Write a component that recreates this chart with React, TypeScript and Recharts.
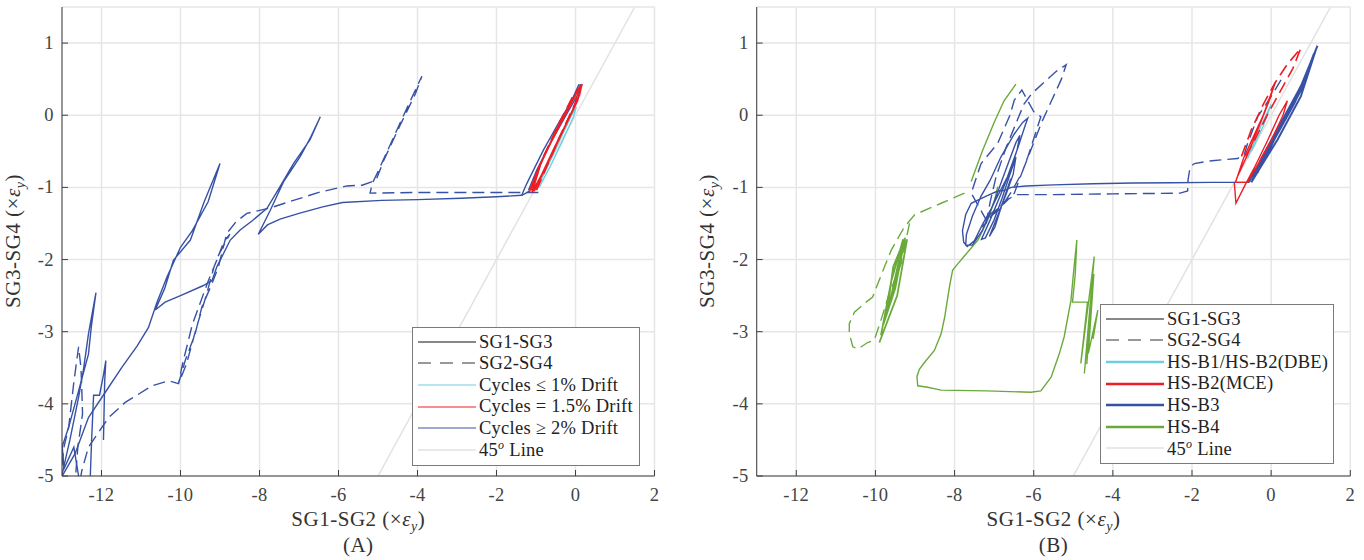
import React from 'react'
import { LineChart, Line, XAxis, YAxis, CartesianGrid, Legend, Label } from 'recharts'

// === EIXOS ===
const xTicks = [-12, -10, -8, -6, -4, -2, 0, 2]
const yTicks = [-5, -4, -3, -2, -1, 0, 1]
const xDomain = [-13, 2]
const yDomain = [-5, 1.5]

const diagLine = [[-5, -5], [1.5, 1.5]]

// === PAINEL (A) ===
const aB3SolidMain = [
  [-1.15, -1.05], [-1.36, -1.11], [-2.0, -1.13], [-2.9, -1.15], [-4.0, -1.17], [-4.9, -1.18], [-5.9, -1.21],
  [-6.4, -1.27], [-7.0, -1.36], [-7.48, -1.44], [-7.8, -1.52], [-8.03, -1.65],
  [-7.73, -1.32], [-7.39, -0.92], [-6.97, -0.575], [-6.7, -0.3], [-6.46, -0.02],
  [-6.72, -0.34], [-7.14, -0.67], [-7.48, -0.99], [-7.81, -1.29], [-8.2, -1.47], [-8.49, -1.59], [-8.74, -1.73],
  [-9.08, -2.1], [-9.2, -2.29], [-9.42, -2.36], [-10.0, -2.5], [-10.39, -2.59], [-10.64, -2.7],
  [-10.4, -2.4], [-10.18, -2.01], [-9.75, -1.73], [-9.4, -1.2], [-9.0, -0.67],
  [-9.3, -1.2], [-9.7, -1.6], [-10.0, -1.83], [-10.34, -2.24], [-10.6, -2.6], [-10.81, -2.94], [-11.1, -3.2],
  [-11.48, -3.49], [-11.82, -3.77], [-12.33, -4.19], [-12.67, -4.69], [-13.1, -5.1],
]
const aB3SolidSpikeA = [
  [-13.0, -4.6], [-12.83, -4.32], [-12.58, -3.82], [-12.33, -3.31], [-12.26, -2.94], [-12.14, -2.46],
  [-12.33, -3.03], [-12.45, -3.5], [-12.58, -3.91], [-12.8, -4.5], [-13.05, -5.1],
]
const aB3SolidSpikeB = [
  [-12.29, -5.1], [-12.25, -4.5], [-12.2, -3.88], [-12.05, -3.88], [-11.95, -3.6], [-11.89, -3.4], [-11.92, -3.7], [-11.95, -4.5],
]
const aB3SolidSpikeC = [[-13.0, -4.55], [-12.95, -4.9], [-12.7, -4.6], [-12.55, -5.1]]
const aB3SolidCluster = [
  [-1.36, -1.11], [-1.27, -0.99], [-1.19, -0.9], [-0.81, -0.48], [-0.39, -0.07], [-0.09, 0.21], [0.08, 0.42],
  [0.16, 0.42], [0.03, 0.26], [-0.26, -0.02], [-0.64, -0.39], [-0.98, -0.76], [-1.19, -1.04],
]
const aB3DashMain = [
  [-0.94, -1.07], [-2.5, -1.07], [-4.0, -1.07], [-5.2, -1.08], [-5.15, -0.95], [-5.0, -0.78], [-4.6, -0.3],
  [-4.25, 0.12], [-3.89, 0.54], [-4.05, 0.3], [-4.45, -0.15], [-4.85, -0.62], [-5.05, -0.9], [-5.4, -0.97],
  [-5.79, -0.98], [-6.5, -1.07], [-7.14, -1.18], [-7.7, -1.28], [-8.32, -1.36], [-8.6, -1.48], [-8.83, -1.64],
  [-9.04, -2.1], [-9.2, -2.33], [-9.46, -2.66], [-9.63, -3.03], [-9.88, -3.4], [-10.05, -3.72],
  [-9.85, -3.45], [-9.6, -2.95], [-9.35, -2.5], [-9.15, -2.1], [-8.9, -1.75], [-8.75, -1.65],
  [-9.0, -1.9], [-9.3, -2.3], [-9.7, -2.9], [-9.95, -3.45], [-10.05, -3.72], [-10.3, -3.68], [-10.72, -3.75],
  [-11.4, -3.98], [-11.82, -4.19], [-12.33, -4.6], [-12.5, -4.93], [-12.55, -5.1],
]
const aB3DashSpikes = [
  [-13.05, -5.1], [-12.95, -4.6], [-12.83, -4.32], [-12.7, -3.7], [-12.58, -3.21], [-12.52, -3.5], [-12.5, -3.77],
  [-12.48, -4.14], [-12.6, -4.6], [-12.67, -5.1],
]
const aRedSolid = [
  [-1.17, -1.06], [-0.95, -0.75], [-0.6, -0.35], [-0.25, 0.02], [0.05, 0.33], [0.16, 0.43], [0.1, 0.28],
  [-0.2, -0.08], [-0.55, -0.47], [-0.85, -0.82], [-1.1, -1.07], [-0.9, -0.7], [-0.5, -0.22], [-0.1, 0.2],
  [0.14, 0.4], [0.05, 0.2], [-0.35, -0.25], [-0.75, -0.72], [-1.05, -1.05],
]
const aRedDash = [
  [-1.12, -1.04], [-0.85, -0.62], [-0.45, -0.15], [-0.05, 0.28], [0.12, 0.4], [-0.02, 0.15], [-0.4, -0.3],
  [-0.8, -0.8], [-1.0, -1.05],
]
const aCyan = [
  [-0.98, -1.02], [-0.7, -0.7], [-0.4, -0.35], [-0.1, 0.0], [0.02, 0.12], [-0.05, -0.02], [-0.35, -0.38],
  [-0.65, -0.72], [-0.92, -1.0],
]

// === PAINEL (B) ===
const bB3SolidMain = [
  [-0.56, -0.93], [-1.5, -0.93], [-2.5, -0.935], [-3.5, -0.94], [-4.5, -0.95], [-5.5, -0.965], [-6.2, -0.98],
  [-6.57, -1.0], [-6.74, -1.04], [-6.91, -1.05], [-7.2, -1.12], [-7.58, -1.22], [-7.72, -1.38], [-7.8, -1.6],
  [-7.77, -1.76], [-7.68, -1.82], [-7.5, -1.74], [-7.3, -1.52], [-7.08, -1.3], [-6.66, -0.85], [-6.4, -0.45],
  [-6.22, -0.15], [-6.15, -0.04], [-6.28, -0.1], [-6.49, -0.26], [-6.83, -0.58], [-7.1, -0.9], [-7.33, -1.12],
  [-7.55, -1.4], [-7.7, -1.65], [-7.72, -1.8], [-7.55, -1.8], [-7.3, -1.6], [-7.0, -1.2], [-6.7, -0.75],
  [-6.45, -0.38], [-6.35, -0.28], [-6.42, -0.48], [-6.6, -0.78], [-6.85, -1.12], [-7.1, -1.45], [-7.32, -1.72],
  [-7.22, -1.7], [-7.0, -1.45], [-6.8, -1.15], [-6.6, -0.82], [-6.45, -0.58], [-6.52, -0.82], [-6.7, -1.1],
  [-6.95, -1.45], [-7.12, -1.68], [-6.98, -1.55], [-6.78, -1.2], [-6.58, -0.88],
]
const bB3SolidBand = [
  [-0.56, -0.93], [-0.5, -0.85], [-0.09, -0.53], [0.41, 0.03], [0.75, 0.4], [1.17, 0.96], [1.13, 0.91],
  [0.75, 0.26], [0.16, -0.34], [-0.3, -0.75], [-0.5, -0.93], [-0.3, -0.7], [0.2, -0.22], [0.6, 0.18],
  [1.0, 0.7], [0.85, 0.45], [0.4, -0.02], [-0.1, -0.48], [-0.45, -0.86], [-0.25, -0.6], [0.3, -0.1],
  [0.7, 0.3], [1.08, 0.85], [0.9, 0.55], [0.35, 0.0], [-0.2, -0.55], [-0.48, -0.9], [-0.2, -0.62],
  [0.25, -0.16], [0.65, 0.25], [0.95, 0.62], [0.7, 0.35], [0.2, -0.2], [-0.35, -0.8],
]
const bB3Dash = [
  [0.25, 0.49], [0.0, 0.26], [-0.34, -0.02], [-0.6, -0.4], [-0.68, -0.55], [-0.85, -0.6], [-1.5, -0.63],
  [-1.94, -0.67], [-2.05, -0.72], [-2.1, -0.9], [-2.11, -1.05], [-2.3, -1.08], [-4.0, -1.09], [-5.5, -1.1],
  [-6.45, -1.1], [-6.75, -1.2], [-7.05, -1.38], [-7.2, -1.5], [-7.1, -1.2], [-6.95, -0.85], [-6.7, -0.45],
  [-6.4, -0.05], [-6.25, 0.15], [-6.05, 0.3], [-5.75, 0.45], [-5.45, 0.6], [-5.18, 0.7], [-5.3, 0.5],
  [-5.55, 0.2], [-5.8, -0.1], [-6.05, -0.45], [-6.3, -0.8], [-6.55, -1.05], [-6.85, -1.3], [-7.2, -1.45],
  [-7.58, -1.08], [-7.33, -0.67], [-6.91, -0.39], [-6.6, 0.0], [-6.49, 0.21], [-6.3, 0.35], [-6.0, 0.05],
  [-5.82, -0.02], [-6.15, -0.58], [-6.49, -1.08], [-6.74, -1.22], [-7.08, -1.36], [-7.3, -1.55],
]
const bRedSolid = [
  [-0.93, -0.94], [-0.89, -1.22], [-0.68, -0.99], [-0.4, -0.7], [-0.09, -0.35], [0.2, 0.0], [0.41, 0.2],
  [0.3, 0.0], [0.0, -0.35], [-0.3, -0.65], [-0.6, -0.93], [-0.9, -0.93], [-0.7, -0.6], [-0.45, -0.3],
  [-0.2, 0.0], [0.0, 0.3], [0.1, 0.45], [-0.05, 0.2], [-0.3, -0.15], [-0.6, -0.55], [-0.85, -0.85],
]
const bRedDash = [
  [-0.75, -0.57], [-0.5, -0.2], [-0.2, 0.15], [0.1, 0.45], [0.4, 0.7], [0.75, 0.93], [0.55, 0.65],
  [0.25, 0.35], [-0.1, 0.0], [-0.45, -0.38], [-0.7, -0.62],
]
const bCyan = [[-0.6, -0.6], [-0.3, -0.2], [0.0, 0.15], [-0.2, -0.15], [-0.5, -0.5]]
const bB4Upper = [[-7.58, -0.92], [-7.3, -0.5], [-7.0, -0.1], [-6.75, 0.2], [-6.45, 0.43]]
const bB4Main = [
  [-6.91, -0.99], [-7.0, -1.2], [-7.16, -1.45], [-7.41, -1.73], [-7.75, -1.95], [-7.92, -2.06], [-8.05, -2.15],
  [-8.12, -2.35], [-8.17, -2.52], [-8.25, -2.8], [-8.34, -3.03], [-8.51, -3.26], [-8.75, -3.42], [-8.89, -3.52],
  [-8.95, -3.62], [-8.93, -3.75], [-8.68, -3.77], [-8.34, -3.81], [-7.2, -3.82], [-6.07, -3.84], [-5.82, -3.82],
  [-5.56, -3.63], [-5.35, -3.3], [-5.23, -3.07], [-5.06, -2.57], [-4.98, -2.1], [-4.91, -1.73], [-4.95, -2.2],
  [-5.02, -2.59], [-4.64, -2.59], [-4.81, -3.44], [-4.47, -1.96], [-4.72, -3.58], [-4.55, -2.47],
  [-4.66, -3.45], [-4.48, -2.2], [-4.62, -3.3], [-4.38, -2.7], [-4.5, -3.1],
]
const bB4Spike = [
  [-9.86, -3.05], [-9.6, -2.3], [-9.3, -1.72], [-9.45, -2.2], [-9.7, -2.7], [-9.55, -2.1], [-9.25, -1.7],
  [-9.5, -2.4], [-9.8, -2.9], [-9.6, -2.5], [-9.4, -2.0], [-9.2, -1.72], [-9.45, -2.5], [-9.9, -3.15],
]
const bB4Dash = [
  [-7.75, -1.08], [-8.34, -1.22], [-9.01, -1.38], [-9.27, -1.55], [-9.6, -1.87], [-9.77, -2.1], [-9.95, -2.35],
  [-10.07, -2.52], [-10.28, -2.61], [-10.53, -2.73], [-10.66, -2.89], [-10.66, -3.03], [-10.57, -3.21],
  [-10.44, -3.24], [-10.2, -3.15], [-10.03, -3.12], [-9.86, -2.84], [-9.65, -2.47], [-9.35, -2.06], [-9.14, -1.5],
]

// === CORES ===
const BLUE = '#3752a5'
const RED = '#ee1d25'
const CYAN = '#6dcfdd'
const GREEN = '#6aaa3b'
const GRAY = '#e2e2e2'
const FONT = '"Liberation Serif", serif'

const pts = (a: number[][]) => a.map(([x, y]) => ({ x, y }))

const seriesA = [
  { data: diagLine, color: GRAY, dash: false, w: 1.5 },
  { data: aB3SolidMain, color: BLUE, dash: false, w: 1.4 },
  { data: aB3SolidSpikeA, color: BLUE, dash: false, w: 1.4 },
  { data: aB3SolidSpikeB, color: BLUE, dash: false, w: 1.4 },
  { data: aB3SolidSpikeC, color: BLUE, dash: false, w: 1.4 },
  { data: aB3SolidCluster, color: BLUE, dash: false, w: 1.4 },
  { data: aB3DashMain, color: BLUE, dash: true, w: 1.4 },
  { data: aB3DashSpikes, color: BLUE, dash: true, w: 1.4 },
  { data: aCyan, color: CYAN, dash: false, w: 1.4 },
  { data: aRedSolid, color: RED, dash: false, w: 1.8 },
  { data: aRedDash, color: RED, dash: true, w: 1.8 },
]

const seriesB = [
  { data: diagLine, color: GRAY, dash: false, w: 1.5 },
  { data: bB4Dash, color: GREEN, dash: true, w: 1.4 },
  { data: bB4Spike, color: GREEN, dash: false, w: 1.8 },
  { data: bB4Main, color: GREEN, dash: false, w: 1.4 },
  { data: bB3SolidMain, color: BLUE, dash: false, w: 1.4 },
  { data: bB3Dash, color: BLUE, dash: true, w: 1.4 },
  { data: bB4Upper, color: GREEN, dash: false, w: 1.4 },
  { data: bB3SolidBand, color: BLUE, dash: false, w: 2 },
  { data: bCyan, color: CYAN, dash: false, w: 1.4 },
  { data: bRedSolid, color: RED, dash: false, w: 1.4 },
  { data: bRedDash, color: RED, dash: true, w: 1.6 },
]

const legendA = [
  { label: 'SG1-SG3', color: '#111', dash: false, w: 1 },
  { label: 'SG2-SG4', color: '#333', dash: true, w: 1 },
  { label: 'Cycles ≤ 1% Drift', color: CYAN, dash: false, w: 1 },
  { label: 'Cycles = 1.5% Drift', color: RED, dash: false, w: 1 },
  { label: 'Cycles ≥ 2% Drift', color: BLUE, dash: false, w: 1 },
  { label: '45o', color: GRAY, dash: false, w: 1.5 },
]
const legendB = [
  { label: 'SG1-SG3', color: '#111', dash: false, w: 1 },
  { label: 'SG2-SG4', color: '#333', dash: true, w: 1 },
  { label: 'HS-B1/HS-B2(DBE)', color: CYAN, dash: false, w: 2.5 },
  { label: 'HS-B2(MCE)', color: RED, dash: false, w: 2.5 },
  { label: 'HS-B3', color: BLUE, dash: false, w: 2.5 },
  { label: 'HS-B4', color: GREEN, dash: false, w: 2.5 },
  { label: '45o', color: GRAY, dash: false, w: 1.5 },
]

const XTick = (props: any) => {
  const { x, y, payload } = props
  return (
    <g>
      <line x1={x} y1={y} x2={x} y2={y - 6} stroke="#404040" />
      <text x={x} y={y + 25} textAnchor="middle" fontFamily={FONT} fontSize={18.5} letterSpacing={0.4} fill="#444">
        {String(payload.value)}
      </text>
    </g>
  )
}

const YTick = (props: any) => {
  const { x, y, payload } = props
  return (
    <g>
      <line x1={x} y1={y} x2={x + 6} y2={y} stroke="#404040" />
      <text x={x - 8} y={y + 6} textAnchor="end" fontFamily={FONT} fontSize={18.5} letterSpacing={0.4} fill="#444">
        {String(payload.value)}
      </text>
    </g>
  )
}

const AxisText = ({ head }: { head: string }) => (
  <>
    {head} (×<tspan fontStyle="italic">ε</tspan>
    <tspan dy={5} fontSize={14} fontStyle="italic">y</tspan>
    <tspan dy={-5}>)</tspan>
  </>
)

function makeLegend(items: any[], width: number, rowH: number) {
  return () => (
    <div style={{
      width, background: '#fff', border: '1.5px solid #7a7a7a', boxSizing: 'border-box',
      padding: '3px 0 4px 4px', fontFamily: FONT, fontSize: 18.5, letterSpacing: 0.25, color: '#222',
    }}>
      {items.map((it) => (
        <div key={it.label} style={{ display: 'flex', alignItems: 'center', height: rowH }}>
          <svg width={62} height={10} style={{ flex: 'none' }}>
            <line x1={1} y1={5} x2={59} y2={5} stroke={it.color} strokeWidth={it.w}
              strokeDasharray={it.dash ? '13 9' : undefined} />
          </svg>
          <span style={{ whiteSpace: 'nowrap', lineHeight: 1 }}>
            {it.label === '45o' ? <>45<sup style={{ fontSize: 12, fontStyle: 'italic' }}>o</sup> Line</> : it.label}
          </span>
        </div>
      ))}
    </div>
  )
}

function Panel({ series, legend, tag, marginLeft, marginRight, legendPos, legendW, yLabelX }: any) {
  return (
    <LineChart width={682} height={560} margin={{ top: 7, right: marginRight, bottom: 54, left: marginLeft }}>
      <CartesianGrid stroke="#e6e6e6" strokeWidth={1.5} />
      <XAxis type="number" dataKey="x" domain={xDomain} ticks={xTicks} allowDataOverflow
        height={30} tickSize={0} tickMargin={0} tick={<XTick />} stroke="#404040" interval={0}>
        <Label content={(p: any) => {
          const vb = p.viewBox
          const cx = vb.x + vb.width / 2
          return (
            <g fontFamily={FONT} fill="#333" fontSize={21} letterSpacing={0.5}>
              <text x={cx} y={526} textAnchor="middle"><AxisText head="SG1-SG2" /></text>
              <text x={cx} y={552} textAnchor="middle">{tag}</text>
            </g>
          )
        }} />
      </XAxis>
      <YAxis type="number" domain={yDomain} ticks={yTicks} allowDataOverflow width={40}
        tickSize={0} tickMargin={0} tick={<YTick />} stroke="#404040" interval={0}>
        <Label content={() => (
          <text x={yLabelX} y={241} transform={`rotate(-90 ${yLabelX} 241)`} textAnchor="middle"
            fontFamily={FONT} fill="#333" fontSize={21} letterSpacing={0.5}>
            <AxisText head="SG3-SG4" />
          </text>
        )} />
      </YAxis>
      <Legend layout="vertical" align="center" verticalAlign="middle"
        wrapperStyle={{ left: legendPos[0], top: legendPos[1], width: legendW }}
        content={makeLegend(legend, legendW, 21.6)} />
      {series.map((s: any, i: number) => (
        <Line key={i} data={pts(s.data)} dataKey="y" type="linear" stroke={s.color} strokeWidth={s.w}
          strokeDasharray={s.dash ? '12 6' : undefined} dot={false} activeDot={false}
          isAnimationActive={false} legendType="none" />
      ))}
    </LineChart>
  )
}

export default function App() {
  return (
    <div style={{ position: 'absolute', left: 0, top: 0, width: 1364, height: 560, background: '#fff' }}>
      <div style={{ position: 'absolute', left: 0, top: 0 }}>
        <Panel series={seriesA} legend={legendA} tag="(A)" marginLeft={22} marginRight={27.5}
          legendPos={[412, 327]} legendW={228} yLabelX={20} />
      </div>
      <div style={{ position: 'absolute', left: 682, top: 0 }}>
        <Panel series={seriesB} legend={legendB} tag="(B)" marginLeft={34.7} marginRight={13.7}
          legendPos={[418, 304]} legendW={234} yLabelX={32} />
      </div>
    </div>
  )
}
